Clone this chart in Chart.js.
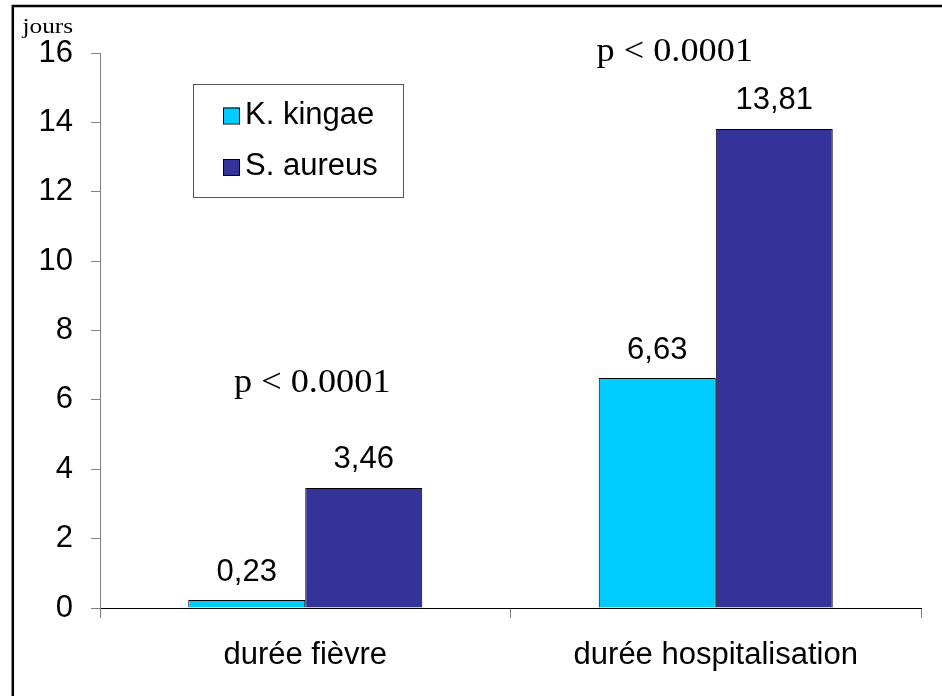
<!DOCTYPE html>
<html>
<head>
<meta charset="utf-8">
<script src="https://cdn.jsdelivr.net/npm/chart.js@4/dist/chart.umd.min.js"></script>
<style>
  html, body { margin: 0; padding: 0; background: #fff; }
  #wrap { width: 942px; height: 696px; position: relative; }
</style>
</head>
<body>
<div id="wrap"><canvas id="c" width="942" height="696"></canvas></div>
<script>
// Durées moyennes (jours) par germe
const categories = ['durée fièvre', 'durée hospitalisation'];
const seriesNames = ['K. kingae', 'S. aureus'];
const kingaeValues = [0.23, 6.63];
const aureusValues = [3.46, 13.81];
const yTicks = [0, 2, 4, 6, 8, 10, 12, 14, 16];
const unitLabel = 'jours';
const pValueText = ['p < 0.0001', 'p < 0.0001'];
// y value of each p annotation baseline, per category
const pValueLevel = [6.22, 15.77];

const SANS = '"Liberation Sans", Arial, sans-serif';
const SERIF = '"Liberation Serif", "Times New Roman", serif';
const fmt = v => v.toFixed(2).replace('.', ',');

// Frame, unit label, p annotations, value labels and the boxed legend
const decorations = {
  id: 'decorations',
  beforeDraw(chart) {
    const ctx = chart.ctx;
    ctx.save();
    ctx.fillStyle = '#fff';
    ctx.fillRect(0, 0, chart.width, chart.height);
    ctx.strokeStyle = '#000';
    ctx.lineWidth = 2.5;
    ctx.beginPath();
    ctx.moveTo(12.8, chart.height);
    ctx.lineTo(12.8, 6);
    ctx.lineTo(chart.width, 6);
    ctx.stroke();
    ctx.restore();
  },
  afterDraw(chart) {
    const ctx = chart.ctx;
    const xs = chart.scales.x, ys = chart.scales.y;
    ctx.save();
    ctx.fillStyle = '#000';

    // unit label above the axis
    ctx.save();
    ctx.font = '22px ' + SERIF;
    ctx.textBaseline = 'alphabetic';
    ctx.translate(22.5, 33);
    ctx.scale(1.15, 1);
    ctx.fillText(unitLabel, 0, 0);
    ctx.restore();

    // p-value annotations
    const pOffsets = [7, -41];
    pValueText.forEach((t, i) => {
      const cx = xs.getPixelForValue(i) + pOffsets[i];
      const by = ys.getPixelForValue(pValueLevel[i]);
      ctx.save();
      ctx.font = '33px ' + SERIF;
      ctx.textAlign = 'center';
      ctx.textBaseline = 'alphabetic';
      ctx.translate(cx, by);
      ctx.scale(1.1, 1);
      ctx.fillText(t, 0, 0);
      ctx.restore();
    });

    // value labels above bars
    ctx.font = '31px ' + SANS;
    ctx.textAlign = 'center';
    ctx.textBaseline = 'alphabetic';
    chart.data.datasets.forEach((ds, di) => {
      chart.getDatasetMeta(di).data.forEach((bar, i) => {
        ctx.fillText(fmt(ds.data[i]), bar.x, bar.y - 19.5);
      });
    });

    // legend box
    const bx = 193, by = 84, bw = 210, bh = 113;
    ctx.strokeStyle = '#555';
    ctx.lineWidth = 1;
    ctx.strokeRect(bx + 0.5, by + 0.5, bw, bh);
    const rowsY = [115.5, 167];
    ctx.textAlign = 'left';
    ctx.textBaseline = 'alphabetic';
    chart.data.datasets.forEach((ds, di) => {
      const cy = rowsY[di];
      ctx.fillStyle = ds.backgroundColor;
      ctx.fillRect(223, cy - 8, 16, 16);
      ctx.strokeStyle = '#000';
      ctx.strokeRect(223.5, cy - 7.5, 16, 16);
      ctx.fillStyle = '#000';
      ctx.fillText(ds.label, 245, cy + 8);
    });
    ctx.restore();
  }
};

new Chart(document.getElementById('c'), {
  type: 'bar',
  data: {
    labels: categories,
    datasets: [
      { label: seriesNames[0], data: kingaeValues, backgroundColor: '#00CCFF',
        borderColor: '#000', borderWidth: 1 },
      { label: seriesNames[1], data: aureusValues, backgroundColor: '#333399',
        borderColor: '#000', borderWidth: 1 }
    ]
  },
  options: {
    responsive: false,
    animation: false,
    devicePixelRatio: 1,
    layout: { padding: { top: 53, right: 21, bottom: 0, left: 0 } },
    plugins: { legend: { display: false }, tooltip: { enabled: false } },
    datasets: { bar: { categoryPercentage: 0.57, barPercentage: 1.0 } },
    scales: {
      x: {
        afterFit(s) { s.height = 88; },
        grid: { display: true, drawOnChartArea: false, drawTicks: true,
                tickLength: 10, color: '#808080', offset: true },
        border: { display: true, color: '#000', width: 1 },
        ticks: { color: '#000', font: { family: SANS, size: 31 }, padding: 19 }
      },
      y: {
        min: 0, max: 16,
        afterFit(s) { s.width = 100; },
        afterBuildTicks(s) { s.ticks = yTicks.map(v => ({ value: v })); },
        grid: { display: true, drawOnChartArea: false, drawTicks: true,
                tickLength: 9, color: '#808080' },
        border: { display: true, color: '#808080', width: 1 },
        ticks: { color: '#000', font: { family: SANS, size: 31 }, padding: 18 }
      }
    }
  },
  plugins: [decorations]
});
</script>
</body>
</html>
